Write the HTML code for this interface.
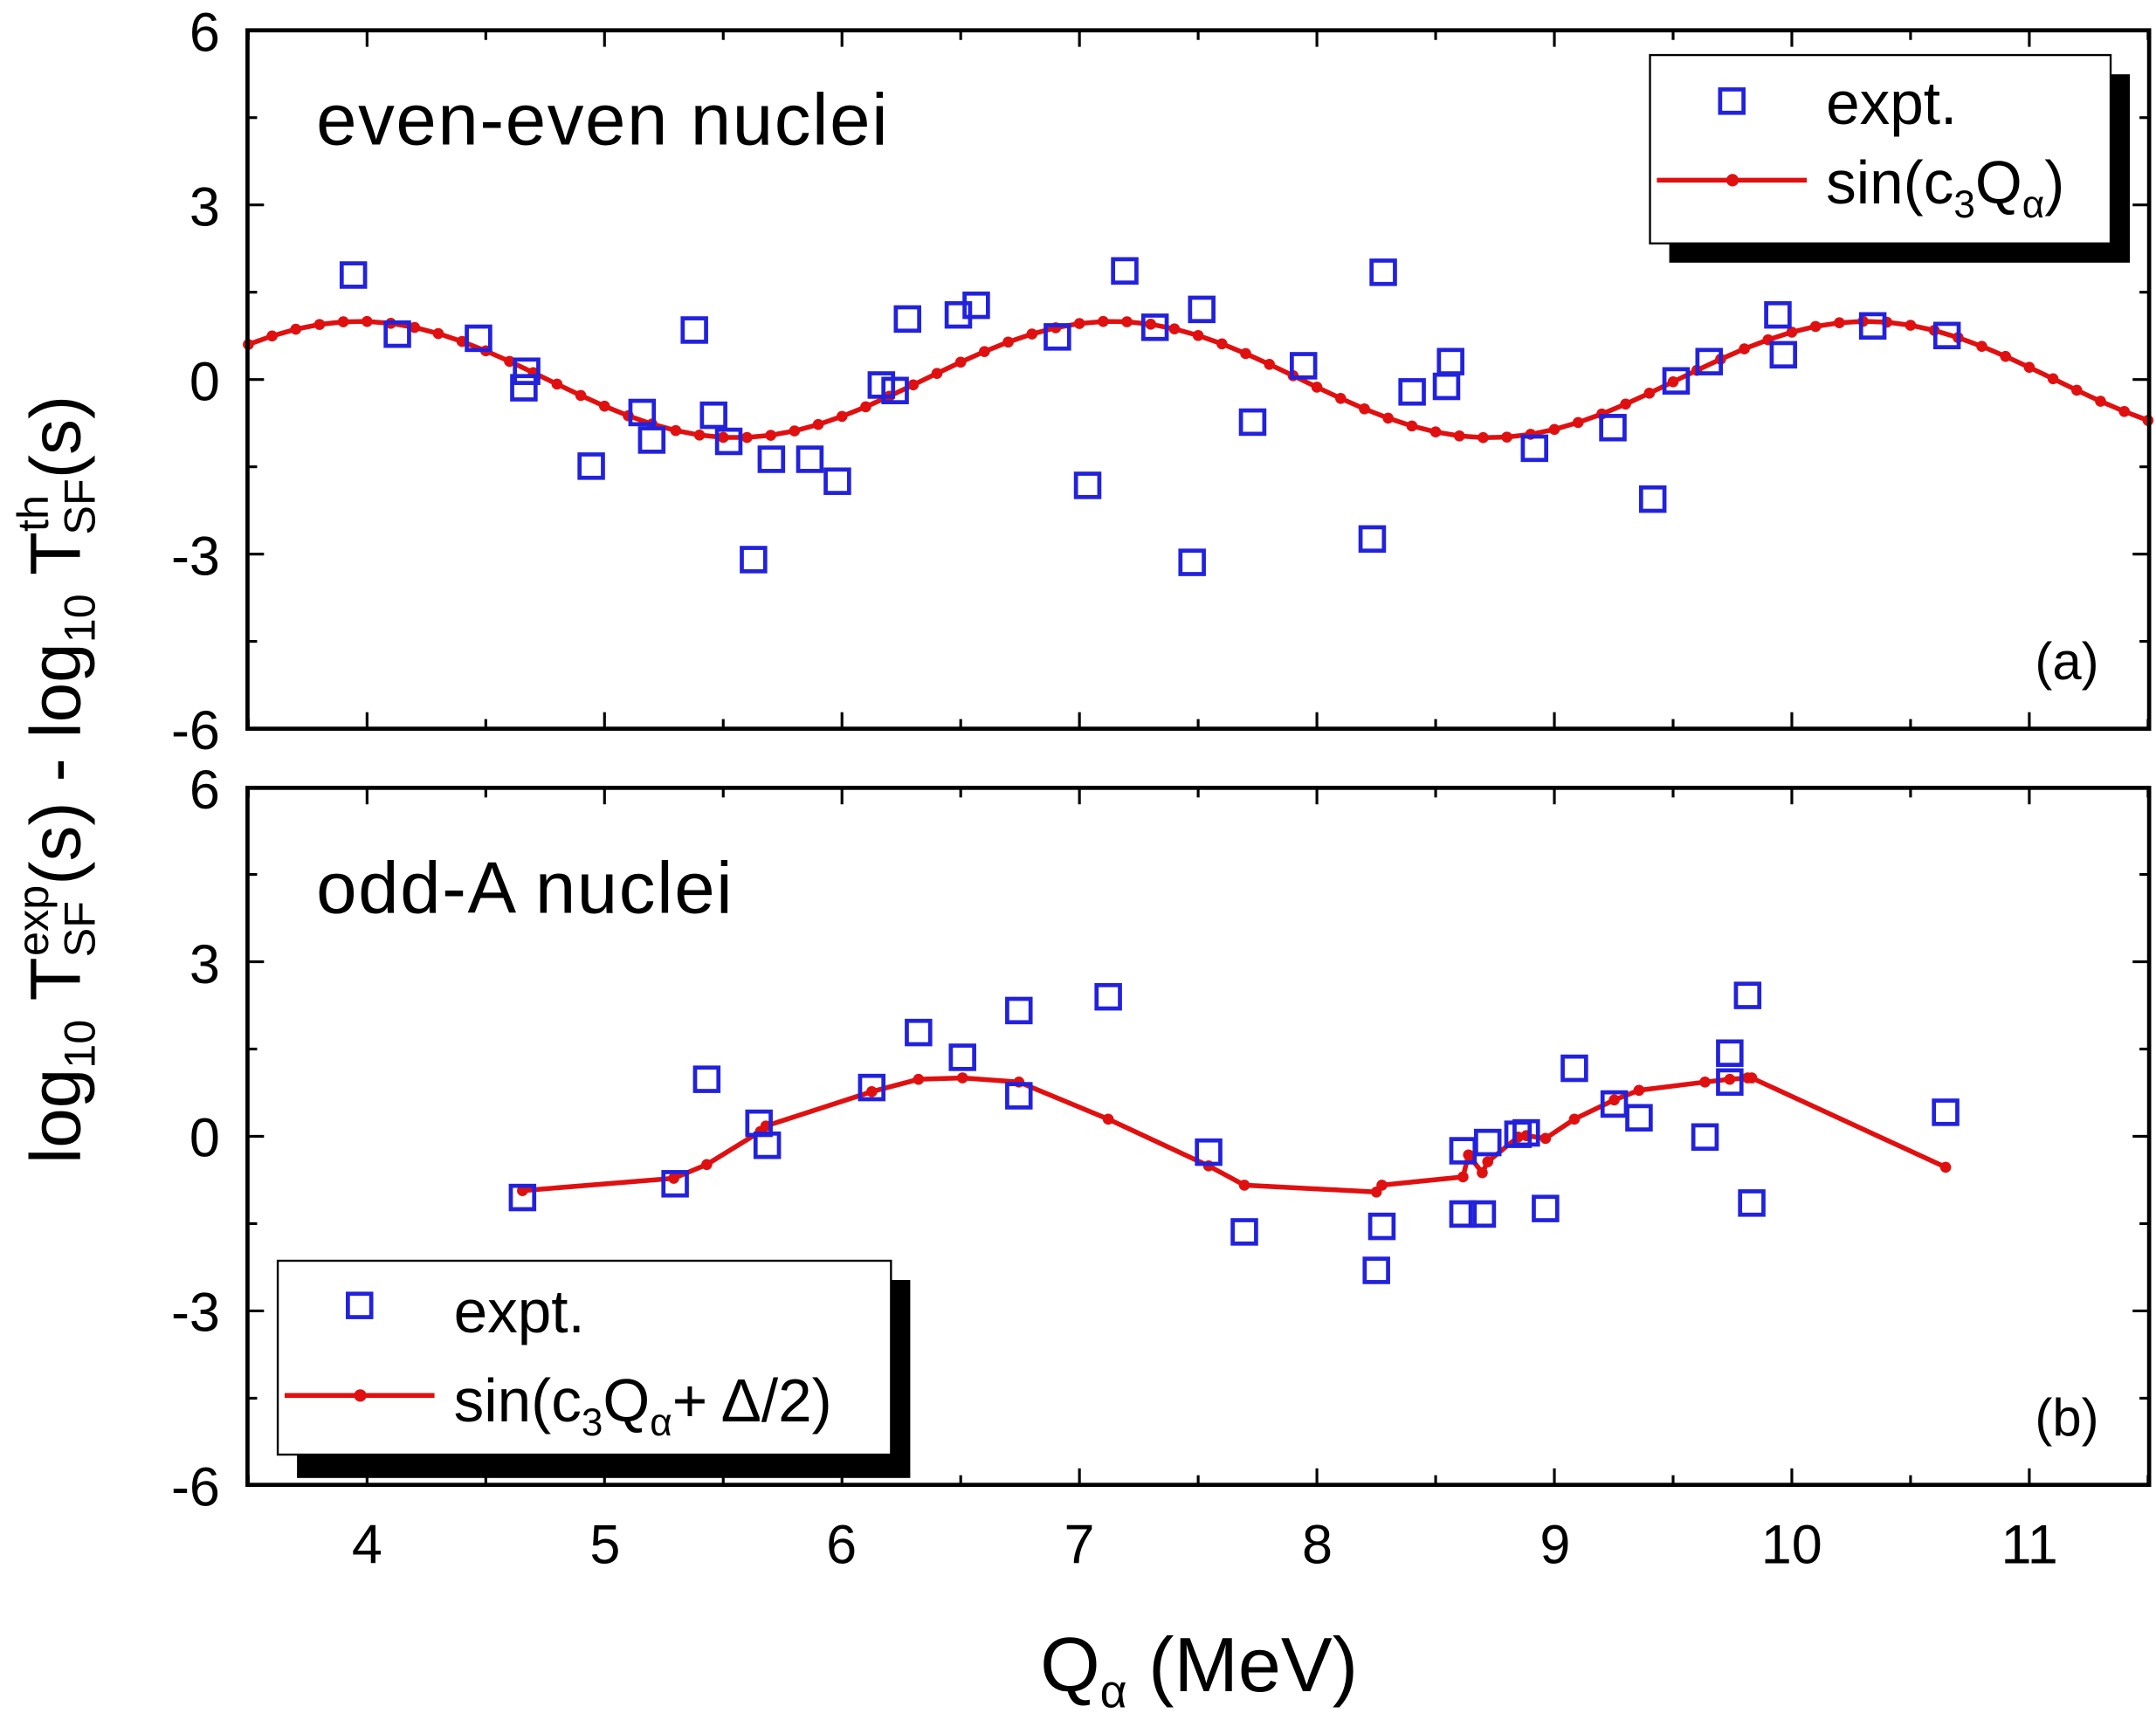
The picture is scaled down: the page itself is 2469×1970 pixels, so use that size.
<!DOCTYPE html>
<html><head><meta charset="utf-8"><style>
html,body{margin:0;padding:0;background:#fff}
svg{display:block}
text{font-family:"Liberation Sans",Arial,sans-serif;fill:#000}
</style></head><body>
<svg id="s" width="2469" height="1970" viewBox="0 0 1568 1251" xmlns="http://www.w3.org/2000/svg">
<rect width="1568" height="1251" fill="#fff"/>
<g id="g"></g>
<rect x="180" y="22" width="1383" height="508" fill="none" stroke="#000" stroke-width="3"/>
<rect x="180" y="573" width="1383" height="507" fill="none" stroke="#000" stroke-width="3"/>
<g font-size="40" text-anchor="end">
<text x="160" y="37">6</text><text x="160" y="164">3</text><text x="160" y="291">0</text><text x="160" y="418">-3</text><text x="160" y="545">-6</text>
<text x="160" y="588">6</text><text x="160" y="715">3</text><text x="160" y="841">0</text><text x="160" y="968">-3</text><text x="160" y="1095">-6</text>
</g>
<g font-size="40" text-anchor="middle">
<text x="267" y="1137">4</text><text x="440" y="1137">5</text><text x="612" y="1137">6</text><text x="785" y="1137">7</text><text x="958" y="1137">8</text><text x="1131" y="1137">9</text><text x="1303" y="1137">10</text><text x="1476" y="1137">11</text>
</g>
<text x="872" y="1230" font-size="56" text-anchor="middle">Q<tspan font-size="34" dy="12">α</tspan><tspan dy="-12"> (MeV)</tspan></text>
<text transform="translate(58,567) rotate(-90)" font-size="52" text-anchor="middle">log<tspan font-size="32" dy="11">10</tspan><tspan dy="-11"> T</tspan><tspan font-size="32" dy="11">SF</tspan><tspan font-size="32" dx="-40" dy="-34">exp</tspan><tspan dy="23">(s) - log</tspan><tspan font-size="32" dy="11">10</tspan><tspan dy="-11"> T</tspan><tspan font-size="32" dy="-23">th</tspan><tspan font-size="32" dx="-29" dy="34">SF</tspan><tspan dy="-11">(s)</tspan></text>
<text x="230" y="105" font-size="53" letter-spacing="1">even-even nuclei</text>
<text x="230" y="664" font-size="53" letter-spacing="1">odd-A nuclei</text>
<text x="1480" y="494" font-size="38">(a)</text>
<text x="1480" y="1044" font-size="38">(b)</text>
<rect x="1214" y="54" width="335" height="137" fill="#000"/>
<rect x="1200" y="40" width="335" height="137" fill="#fff" stroke="#000" stroke-width="1.5"/>
<rect x="1251" y="65" width="17" height="17" fill="none" stroke="#2222dd" stroke-width="3"/>
<text x="1328" y="90" font-size="44">expt.</text>
<line x1="1205" y1="131" x2="1314" y2="131" stroke="#e01010" stroke-width="3.5"/>
<circle cx="1260" cy="131" r="4.5" fill="#e01010"/>
<text x="1328" y="148" font-size="44">sin(c<tspan font-size="28" dy="10">3</tspan><tspan dy="-10">Q</tspan><tspan font-size="28" dy="10">α</tspan><tspan dy="-10">)</tspan></text>
<rect x="216" y="931" width="446" height="144" fill="#000"/>
<rect x="202" y="917" width="446" height="141" fill="#fff" stroke="#000" stroke-width="1.5"/>
<rect x="253" y="941" width="17" height="17" fill="none" stroke="#2222dd" stroke-width="3"/>
<text x="330" y="969" font-size="44">expt.</text>
<line x1="207" y1="1015" x2="316" y2="1015" stroke="#e01010" stroke-width="3.5"/>
<circle cx="262" cy="1015" r="4.5" fill="#e01010"/>
<text x="330" y="1034" font-size="44">sin(c<tspan font-size="28" dy="10">3</tspan><tspan dy="-10">Q</tspan><tspan font-size="28" dy="10">α</tspan><tspan dy="-10">+ Δ/2)</tspan></text>
</svg>
<script>
var g=document.getElementById('g'),h='';
function X(q){return 180.6+(q-3.5)*172.7}
for(var q=3.5;q<=11.51;q+=0.5){var x=X(q),maj=Math.abs(q-Math.round(q))<0.01,L=maj?12:7;
[[22,1],[530,-1],[573,1],[1080,-1]].forEach(function(p){h+='<line x1="'+x+'" y1="'+p[0]+'" x2="'+x+'" y2="'+(p[0]+p[1]*L)+'" stroke="#000" stroke-width="2"/>';});}
[[22,276],[573,826.5]].forEach(function(p){for(var v=-6;v<=6;v+=1.5){var y=p[1]-v*42.33,maj=(v%3==0),L=maj?12:7;
h+='<line x1="180" y1="'+y+'" x2="'+(180+L)+'" y2="'+y+'" stroke="#000" stroke-width="2"/>';
h+='<line x1="1563" y1="'+y+'" x2="'+(1563-L)+'" y2="'+y+'" stroke="#000" stroke-width="2"/>';}});
var pts=[];for(var q=3.5;q<=11.501;q+=0.1){pts.push([X(q),276-42.33*Math.sin(1.98*q)]);}
h+='<polyline points="'+pts.map(function(p){return p.join(',')}).join(' ')+'" fill="none" stroke="#e01010" stroke-width="3.5"/>';
pts.forEach(function(p){h+='<circle cx="'+p[0]+'" cy="'+p[1]+'" r="4" fill="#e01010"/>';});
function sq(a){a.forEach(function(p){h+='<rect x="'+(p[0]-8.5)+'" y="'+(p[1]-8.5)+'" width="17" height="17" fill="none" stroke="#2222dd" stroke-width="3"/>';});}
sq([[257,200],[289,243],[348,246],[383,270],[381,282],[430,339],[467,300],[474,320],[505,240],[519,302],[530,321],[548,407],[561,334],[589,334],[609,350],[641,280],[651,284],[660,232],[697,229],[710,222],[769,245],[791,353],[818,197],[840,238],[867,409],[874,225],[911,307],[948,266],[998,392],[1006,198],[1027,285],[1052,281],[1055,263],[1116,326],[1173,311],[1202,363],[1219,277],[1243,263],[1293,229],[1297,258],[1362,237],[1416,244]]);
var lb=[[380,866],[490,857],[514,847],[553,823],[557,819],[634,794],[668,785],[700,784],[741,787],[806,814],[879,848],[905,862],[1001,867],[1005,862],[1064,856],[1068,840],[1078,853],[1082,845],[1104,827],[1110,826],[1124,828],[1145,814],[1174,800],[1192,793],[1240,787],[1258,785],[1271,784],[1274,784],[1415,849]];
h+='<polyline points="'+lb.map(function(p){return p.join(',')}).join(' ')+'" fill="none" stroke="#e01010" stroke-width="3.5"/>';
lb.forEach(function(p){h+='<circle cx="'+p[0]+'" cy="'+p[1]+'" r="4" fill="#e01010"/>';});
sq([[380,871],[491,861],[514,785],[552,817],[558,833],[634,791],[668,751],[700,769],[741,735],[741,797],[806,725],[879,838],[905,896],[1001,924],[1005,892],[1064,837],[1064,883],[1078,883],[1082,831],[1104,825],[1110,824],[1124,879],[1145,777],[1174,803],[1192,813],[1240,827],[1258,766],[1258,787],[1271,724],[1274,875],[1415,809]]);
g.innerHTML=h;
</script>
</body></html>
